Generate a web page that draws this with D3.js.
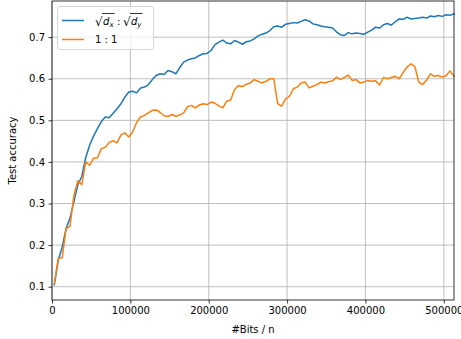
<!DOCTYPE html>
<html>
<head>
<meta charset="utf-8">
<script src="https://cdn.jsdelivr.net/npm/d3@7"></script>
<style>
  body { margin: 0; background: #fff; }
  text { font-family: "DejaVu Sans", sans-serif; }
</style>
</head>
<body>
<div id="chart"></div>
<script>
// x positions (bits / n), one sample every 5000
var bits = d3.range(3000, 513001, 5000);

// sqrt(dx) : sqrt(dy) run
var accSqrt = [
  0.105, 0.164, 0.195, 0.240, 0.265, 0.305, 0.345, 0.365, 0.410, 0.440,
  0.462, 0.480, 0.497, 0.508, 0.506, 0.517, 0.528, 0.540, 0.556, 0.568,
  0.570, 0.566, 0.578, 0.580, 0.586, 0.598, 0.608, 0.612, 0.610, 0.620,
  0.617, 0.612, 0.627, 0.640, 0.645, 0.648, 0.650, 0.656, 0.660, 0.661,
  0.668, 0.682, 0.688, 0.693, 0.686, 0.684, 0.692, 0.688, 0.683, 0.689,
  0.691, 0.696, 0.703, 0.707, 0.710, 0.716, 0.725, 0.727, 0.724, 0.731,
  0.733, 0.735, 0.734, 0.738, 0.742, 0.739, 0.732, 0.730, 0.727, 0.725,
  0.724, 0.722, 0.713, 0.706, 0.704, 0.711, 0.708, 0.710, 0.709, 0.707,
  0.712, 0.717, 0.724, 0.722, 0.730, 0.733, 0.729, 0.737, 0.744, 0.743,
  0.748, 0.744, 0.745, 0.746, 0.748, 0.746, 0.751, 0.749, 0.752, 0.750,
  0.754, 0.753, 0.756
];

// 1 : 1 run
var accOne = [
  0.108, 0.168, 0.170, 0.240, 0.245, 0.320, 0.355, 0.345, 0.400, 0.392,
  0.409, 0.410, 0.432, 0.435, 0.447, 0.451, 0.446, 0.465, 0.470, 0.460,
  0.472, 0.495, 0.508, 0.512, 0.518, 0.524, 0.525, 0.519, 0.511, 0.509,
  0.514, 0.510, 0.513, 0.518, 0.533, 0.536, 0.530, 0.537, 0.540, 0.538,
  0.544, 0.541, 0.535, 0.530, 0.546, 0.549, 0.574, 0.584, 0.581, 0.587,
  0.590, 0.598, 0.594, 0.590, 0.594, 0.600, 0.600, 0.540, 0.534, 0.551,
  0.558, 0.576, 0.580, 0.590, 0.592, 0.578, 0.582, 0.586, 0.592, 0.590,
  0.593, 0.595, 0.604, 0.598, 0.603, 0.609, 0.596, 0.598, 0.590, 0.592,
  0.596, 0.594, 0.595, 0.585, 0.603, 0.600, 0.603, 0.606, 0.600, 0.615,
  0.628, 0.636, 0.630, 0.592, 0.586, 0.597, 0.612, 0.606, 0.608, 0.604,
  0.608, 0.619, 0.606
];

var xTicks = [0, 100000, 200000, 300000, 400000, 500000];
var yTicks = [0.1, 0.2, 0.3, 0.4, 0.5, 0.6, 0.7];

// set the dimensions and margins of the graph
var margin = {top: 1, right: 7, bottom: 39, left: 52},
    width = 461 - margin.left - margin.right,
    height = 339 - margin.top - margin.bottom;

var root = d3.select("#chart")
  .append("svg")
    .attr("width", 461)
    .attr("height", 339);

var svg = root.append("g")
    .attr("transform", "translate(" + margin.left + "," + margin.top + ")");

var x = d3.scaleLinear().domain([0, 513000]).range([0, width]);
var y = d3.scaleLinear().domain([0.068, 0.787]).range([height, 0]);

// grid
svg.append("g").selectAll("line")
  .data(xTicks).enter().append("line")
    .attr("x1", function(d) { return x(d); })
    .attr("x2", function(d) { return x(d); })
    .attr("y1", 0).attr("y2", height)
    .attr("stroke", "#b0b0b0").attr("stroke-width", 0.8);
svg.append("g").selectAll("line")
  .data(yTicks).enter().append("line")
    .attr("y1", function(d) { return y(d); })
    .attr("y2", function(d) { return y(d); })
    .attr("x1", 0).attr("x2", width)
    .attr("stroke", "#b0b0b0").attr("stroke-width", 0.8);

// lines
var line = d3.line()
  .x(function(d, i) { return x(bits[i]); })
  .y(function(d) { return y(d); });

svg.append("path").datum(accSqrt)
  .attr("d", line).attr("fill", "none")
  .attr("stroke", "#1f77b4").attr("stroke-width", 1.5)
  .attr("stroke-linejoin", "round").attr("stroke-linecap", "square");

svg.append("path").datum(accOne)
  .attr("d", line).attr("fill", "none")
  .attr("stroke", "#ff7f0e").attr("stroke-width", 1.5)
  .attr("stroke-linejoin", "round").attr("stroke-linecap", "square");

// axes
var xAxis = svg.append("g")
  .attr("transform", "translate(0," + height + ")")
  .call(d3.axisBottom(x).tickValues(xTicks).tickFormat(d3.format("d"))
    .tickSize(3.5).tickPadding(3.5));
var yAxis = svg.append("g")
  .call(d3.axisLeft(y).tickValues(yTicks).tickFormat(d3.format(".1f"))
    .tickSize(3.5).tickPadding(3.5));

[xAxis, yAxis].forEach(function(a) {
  a.select(".domain").remove();
  a.selectAll("text")
    .attr("font-family", "DejaVu Sans, sans-serif")
    .attr("font-size", 10)
    .attr("fill", "#000");
  a.selectAll("line").attr("stroke", "#000").attr("stroke-width", 0.8);
});

// spines
svg.append("rect")
  .attr("width", width).attr("height", height)
  .attr("fill", "none").attr("stroke", "#000").attr("stroke-width", 0.8);

// axis labels
svg.append("text")
  .attr("x", width / 2).attr("y", height + 33)
  .attr("text-anchor", "middle").attr("font-size", 10)
  .text("#Bits / n");
svg.append("text")
  .attr("transform", "translate(" + (-36) + "," + (height / 2) + ")rotate(-90)")
  .attr("text-anchor", "middle").attr("font-size", 10)
  .text("Test accuracy");

// legend
var leg = root.append("g");
leg.append("rect")
  .attr("x", 57.5).attr("y", 6.5).attr("width", 96).attr("height", 43)
  .attr("rx", 2.5)
  .attr("fill", "#fff").attr("fill-opacity", 0.8)
  .attr("stroke", "#cccccc").attr("stroke-width", 0.8);

leg.append("line")
  .attr("x1", 62).attr("x2", 84).attr("y1", 20.5).attr("y2", 20.5)
  .attr("stroke", "#1f77b4").attr("stroke-width", 1.5);
leg.append("line")
  .attr("x1", 62).attr("x2", 84).attr("y1", 39.5).attr("y2", 39.5)
  .attr("stroke", "#ff7f0e").attr("stroke-width", 1.5);

// sqrt(d_x) : sqrt(d_y) as mathtext-like label
var tx = 95, base = 24.5;
function sqrtTerm(sub) {
  var rad = leg.append("text")
    .attr("x", tx).attr("y", base + 1).attr("font-size", 12).text("\u221A");
  var rw = rad.node().getComputedTextLength();
  var start = tx + rw - 0.6;
  var d = leg.append("text")
    .attr("x", start + 1).attr("y", base).attr("font-size", 10)
    .attr("font-style", "italic").text("d");
  var dw = d.node().getComputedTextLength();
  var s = leg.append("text")
    .attr("x", start + 1 + dw).attr("y", base + 2.5).attr("font-size", 7)
    .attr("font-style", "italic").text(sub);
  var sw = s.node().getComputedTextLength();
  var end = start + 1 + dw + sw + 1;
  leg.append("line")
    .attr("x1", start).attr("x2", end)
    .attr("y1", 13.5).attr("y2", 13.5)
    .attr("stroke", "#000").attr("stroke-width", 0.8);
  tx = end;
}
sqrtTerm("x");
var colon = leg.append("text")
  .attr("x", tx + 2.5).attr("y", base).attr("font-size", 10).text(":");
tx = tx + 2.5 + colon.node().getComputedTextLength() + 2.5;
sqrtTerm("y");

leg.append("text")
  .attr("x", 95).attr("y", 43).attr("font-size", 10)
  .text("1 : 1");
</script>
</body>
</html>
